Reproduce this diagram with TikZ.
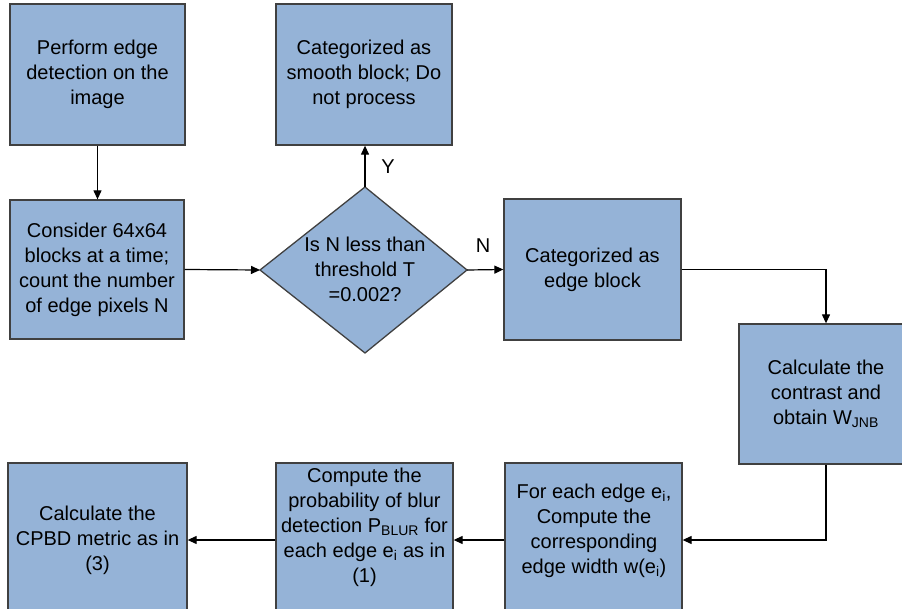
\documentclass[tikz,border=0pt]{standalone}
\usepackage{fontspec}
\setmainfont{Liberation Sans}
\usetikzlibrary{arrows.meta}
\definecolor{boxfill}{HTML}{95B3D7}
\definecolor{boxline}{HTML}{404040}
\begin{document}
\begin{tikzpicture}[x=1pt,y=-1pt,
  box/.style={draw=boxline, line width=1.3pt, fill=boxfill, minimum width=175pt, minimum height=141pt, inner sep=0pt, align=center, font=\fontsize{20}{25}\selectfont},
  txt/.style={align=center, font=\fontsize{20}{25}\selectfont, inner sep=0pt},
  arr/.style={line width=1.2pt, -{Triangle[length=9pt,width=8pt]}}]
\useasboundingbox (0,0) rectangle (902,609);
\clip (0,0) rectangle (902,609);
\node[box] (detect) at (97.5,74.5) {Perform edge\\detection on the\\image};
\node[box, minimum height=139pt, minimum width=174pt] (consider) at (97,269.5) {Consider 64x64\\blocks at a time;\\count the number\\of edge pixels N};
\node[box, minimum width=176pt] (smooth) at (364,74.5) {Categorized as\\smooth block; Do\\not process};
\draw[draw=boxline, fill=boxfill, line width=1.3pt] (365,187) coordinate (dt) -- (467,270) coordinate (dr) -- (365,353) coordinate (db) -- (260,270) coordinate (dl) -- cycle;
\node[txt] (dtext) at (365,269) {Is N less than\\threshold T\\=0.002?};
\node[box, minimum width=177pt] (edge) at (592.5,269.5) {Categorized as\\edge block};
\node[box, minimum width=174pt, minimum height=140pt] (contrast) at (826,394) {Calculate the\\contrast and\\obtain W\textsubscript{JNB}};
\node[box, minimum width=179pt, minimum height=154pt] (cpbd) at (97.5,540) {Calculate the\\CPBD metric as in\\(3)};
\node[box, minimum width=177pt, minimum height=154pt] (prob) at (364.5,540) {};
\node[txt] (probtext) at (364.5,527) {Compute the\\probability of blur\\detection P\textsubscript{BLUR} for\\each edge e\textsubscript{i} as in\\(1)};
\node[box, minimum width=177pt, minimum height=154pt] (foreach) at (593.5,540) {};
\node[txt] (foreachtext) at (594,531) {For each edge e\textsubscript{i},\\Compute the\\corresponding\\edge width w(e\textsubscript{i})};
\draw[arr] (detect.south) -- (detect.south |- consider.north);
\draw[arr] (consider.east) -- (dl);
\draw[arr] (dt) -- (dt |- smooth.south);
\draw[arr] (dr) -- (edge.west);
\draw[arr] (edge.east) -| (contrast.north);
\draw[arr] (contrast.south) |- (foreach.east);
\draw[arr] (foreach.west) -- (prob.east);
\draw[arr] (prob.west) -- (cpbd.east);
\node[txt] (ylab) at (388,167) {Y};
\node[txt] (nlab) at (483,246) {N};
\end{tikzpicture}
\end{document}
